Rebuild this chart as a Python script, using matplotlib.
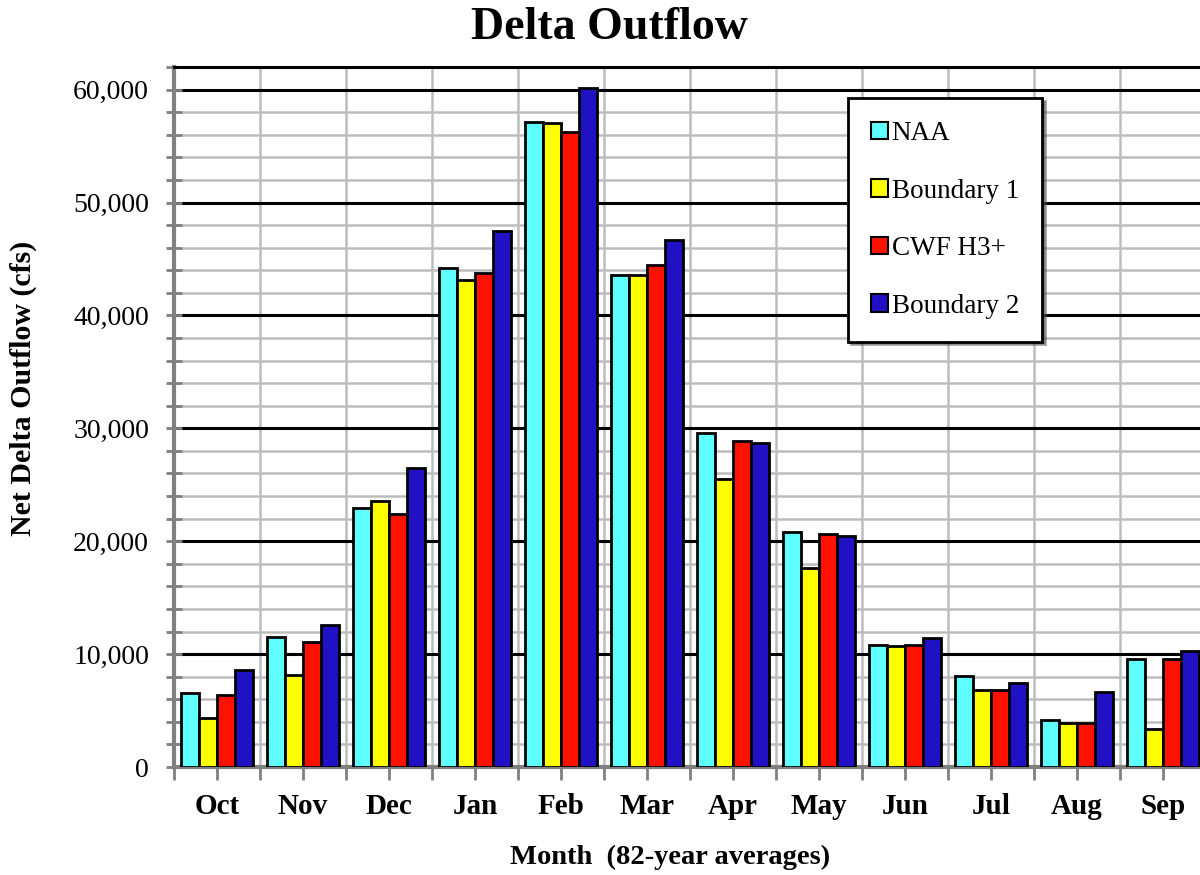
import numpy as np
import matplotlib
matplotlib.use("Agg")
import matplotlib.pyplot as plt
from matplotlib.ticker import MultipleLocator, FuncFormatter

months = ["Oct", "Nov", "Dec", "Jan", "Feb", "Mar", "Apr", "May", "Jun", "Jul", "Aug", "Sep"]
series_names = ["NAA", "Boundary 1", "CWF H3+", "Boundary 2"]
naa = [6540, 11500, 22950, 44160, 57120, 43600, 29550, 20790, 10830, 8100, 4170, 9560]
boundary1 = [4320, 8150, 23600, 43150, 57050, 43600, 25530, 17630, 10680, 6830, 3880, 3370]
cwf_h3 = [6360, 11030, 22450, 43720, 56280, 44450, 28860, 20610, 10800, 6830, 3880, 9610]
boundary2 = [8600, 12600, 26500, 47440, 60130, 46700, 28660, 20430, 11390, 7480, 6630, 10270]
colors = ["#5FFFFF", "#FFFF00", "#FF1100", "#2012C4"]

plt.rcParams["font.family"] = ["Liberation Serif", "DejaVu Serif"]

fig = plt.figure(figsize=(12, 8.75), dpi=100)
ax = fig.add_axes([0.145, 0.1234, 0.86, 0.80])

x = np.arange(len(months))
width = 0.21
all_series = [naa, boundary1, cwf_h3, boundary2]
for i, (vals, name, c) in enumerate(zip(all_series, series_names, colors)):
    ax.bar(x + (i - 1.5) * width, vals, width, color=c, edgecolor="black",
           linewidth=2, label=name, zorder=3)

ax.set_xlim(-0.5, len(months) - 0.5)
ax.set_ylim(0, 62000)

# y gridlines: gray every 2000, black every 10000
ax.yaxis.set_major_locator(MultipleLocator(10000))
ax.yaxis.set_minor_locator(MultipleLocator(2000))
ax.yaxis.set_major_formatter(FuncFormatter(lambda v, p: f"{int(v):,}"))
ax.grid(which="minor", axis="y", color="#bdbdbd", linewidth=1.8, zorder=0)
ax.grid(which="major", axis="y", color="black", linewidth=2.2, zorder=1)

# x: boundaries as major ticks + gray vertical grid, labels at group centers
ax.set_xticks(np.arange(-0.5, len(months), 1.0))
ax.set_xticklabels([])
ax.set_xticks(x, minor=True)
ax.set_xticklabels(months, minor=True, fontsize=21, fontweight="bold")
ax.grid(which="major", axis="x", color="#bdbdbd", linewidth=1.8, zorder=0)

ax.tick_params(axis="y", which="both", direction="inout", length=12, width=2,
               color="#808080", labelsize=20, pad=12)
ax.tick_params(axis="x", which="both", direction="out", length=9, width=2,
               color="#808080", pad=10)

for side in ["left", "bottom"]:
    ax.spines[side].set_color("#808080")
    ax.spines[side].set_linewidth(3)
ax.spines["top"].set_color("black")
ax.spines["top"].set_linewidth(2.2)
ax.spines["right"].set_visible(False)

ax.set_ylabel("Net Delta Outflow (cfs)", fontsize=21.5, fontweight="bold")
ax.yaxis.set_label_coords(-0.133, 0.541)
fig.text(0.558, 0.0206, "Month  (82-year averages)", fontsize=20.5, fontweight="bold",
         ha="center", va="center")
fig.text(0.508, 0.968, "Delta Outflow", fontsize=33, fontweight="bold",
         ha="center", va="center")

leg = fig.legend(loc="upper left", bbox_to_anchor=(0.707, 0.888), fontsize=19.5,
                 frameon=True, fancybox=False, shadow=True, labelspacing=1.2,
                 handlelength=0.6, handleheight=0.6, handletextpad=0.15,
                 borderpad=0.85, borderaxespad=0)
leg.get_frame().set_edgecolor("black")
leg.get_frame().set_linewidth(2)
for h in leg.legend_handles:
    h.set_linewidth(1.5)

fig.savefig("out.png", dpi=100)
